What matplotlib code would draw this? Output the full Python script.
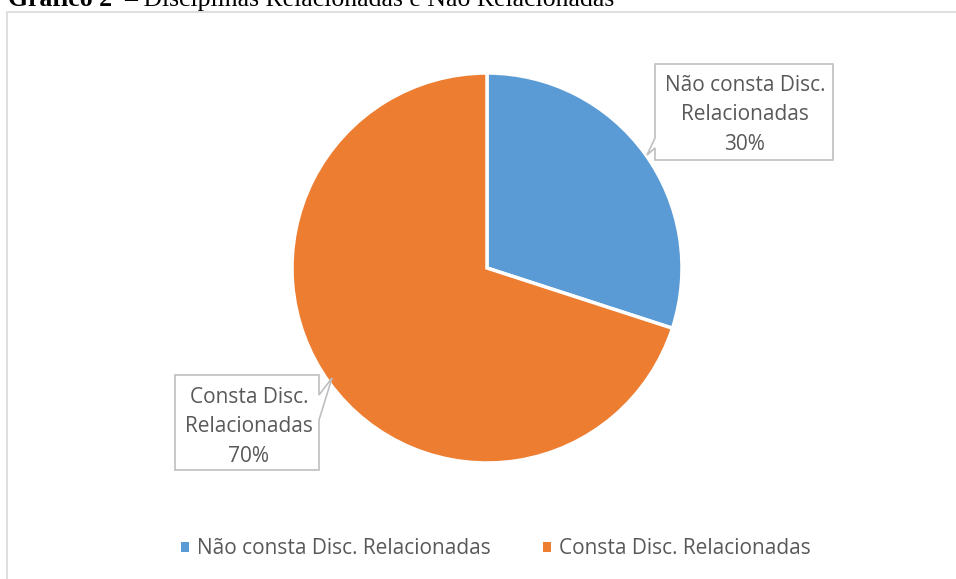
import matplotlib
matplotlib.use("Agg")
import matplotlib.pyplot as plt
from matplotlib.patches import Polygon, Rectangle

labels = ["Não consta Disc. Relacionadas", "Consta Disc. Relacionadas"]
callout_labels = ["Não consta Disc.\nRelacionadas", "Consta Disc.\nRelacionadas"]
values = [30, 70]
colors = ["#5B9BD5", "#ED7D31"]
title_bold = "Gráfico 2"
title_rest = "– Disciplinas Relacionadas e Não Relacionadas"

W, H = 956, 579
fig = plt.figure(figsize=(W / 100, H / 100), dpi=100)
ax = fig.add_axes([0, 0, 1, 1])

def Y(y):
    return H - y

font = "Open Sans"
txt_color = "#595959"

wedges, _ = ax.pie(values, colors=colors, startangle=90, counterclock=False,
                   center=(487, Y(268)), radius=195,
                   wedgeprops=dict(edgecolor="white", linewidth=2.5))
ax.set_xlim(0, W)
ax.set_ylim(0, H)
ax.set_aspect("auto")
ax.axis("off")

# chart border
ax.add_patch(Rectangle((7, Y(H + 5)), W, H + 5 - 12, fill=False,
                       edgecolor="#D9D9D9", linewidth=1.2, zorder=0))

# title (partly cut at the top, as in the source)
ax.text(8, Y(6), title_bold, fontsize=18.5, fontweight="bold",
        family="Liberation Serif", va="baseline", ha="left", color="black")
ax.text(124, Y(6), title_rest, fontsize=18.5,
        family="Liberation Serif", va="baseline", ha="left", color="black")

# callout boxes
def callout(pts, cx, cy, text):
    poly = Polygon([(x, Y(y)) for x, y in pts], closed=True,
                   facecolor="white", edgecolor="#BFBFBF", linewidth=1.2, zorder=5)
    ax.add_patch(poly)
    ax.text(cx, Y(cy), text, ha="center", va="center", fontsize=15,
            family=font, color=txt_color, linespacing=1.52, zorder=6)

pct = [f"{v}%" for v in values]

callout([(655, 64), (833, 64), (833, 160), (655, 160), (655, 148),
         (647, 155), (655, 138)], 745, 115,
        callout_labels[0] + "\n" + pct[0])
callout([(175, 375), (319, 375), (319, 395), (332, 378), (319, 420),
         (319, 470), (175, 470)], 249, 427,
        callout_labels[1] + "\n" + pct[1])

leg = ax.legend(wedges, labels, loc="center", bbox_to_anchor=(496 / W, 1 - 549 / H),
                ncol=2, frameon=False, handlelength=0.38, handleheight=0.38,
                handletextpad=0.4, columnspacing=2.5,
                prop=dict(family=font, size=15))
for t in leg.get_texts():
    t.set_color(txt_color)
for h in leg.legend_handles:
    h.set_edgecolor("none")

fig.savefig("out.png", dpi=100)
